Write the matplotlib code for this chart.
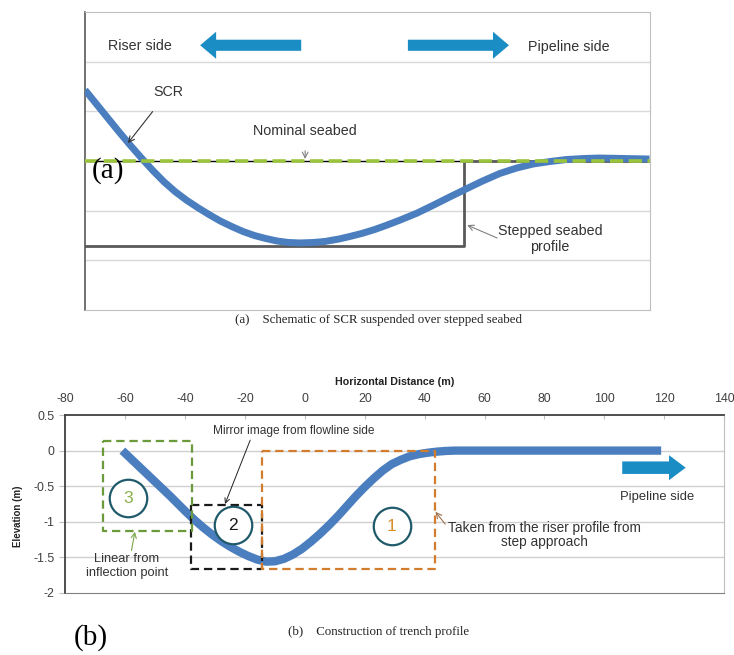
import matplotlib
matplotlib.use('Agg')
import matplotlib.pyplot as plt
from matplotlib.patches import FancyArrowPatch, ArrowStyle

plt.rcParams['font.family'] = ['Liberation Sans', 'DejaVu Sans']
plt.rcParams['lines.scale_dashes'] = False

# ---- panel (a): schematic, x in 0-100 units, y in grid units (nominal seabed = 0)
scr_x = [0, 2, 4, 6, 8, 10, 12, 14, 16, 18, 20, 22, 24, 26, 28, 30, 32, 34, 36, 38.1, 40.5,
         42.5, 45, 46.9, 49, 51.3, 53.5, 55.8, 58.8, 61.7, 64.5, 67.2, 70.3, 73.5, 76.5,
         79.4, 82.4, 85.3, 88.3, 91.2, 95.5, 100]
scr_y = [1.43, 1.15, 0.87, 0.59, 0.32, 0.06, -0.19, -0.42, -0.62, -0.79, -0.94, -1.08, -1.21,
         -1.32, -1.42, -1.50, -1.56, -1.61, -1.64, -1.65, -1.64, -1.62, -1.57, -1.52, -1.46,
         -1.38, -1.29, -1.19, -1.05, -0.89, -0.73, -0.58, -0.41, -0.25, -0.14, -0.06, -0.01,
         0.03, 0.05, 0.06, 0.05, 0.04]
step_x = [0, 67.2, 67.2, 100]
step_y = [-1.71, -1.71, 0, 0]
grid_a = [-2, -1, 1, 2]

# ---- panel (b): trench profile
trench_x = [-61, -55, -50, -45, -40, -37, -34, -31, -28, -25, -22, -19, -16, -13, -10, -7,
            -4, -1, 2, 5, 8, 11, 14, 17, 20, 23, 26, 29, 32, 35, 38, 41, 44, 47, 50, 119]
trench_y = [0, -0.24, -0.44, -0.64, -0.85, -0.97, -1.08, -1.18, -1.27, -1.35, -1.42, -1.48,
            -1.53, -1.56, -1.555, -1.52, -1.46, -1.38, -1.28, -1.17, -1.05, -0.92, -0.78,
            -0.64, -0.51, -0.39, -0.28, -0.19, -0.13, -0.08, -0.05, -0.03, -0.015, -0.005,
            0, 0]
# boxes: (x0, x1, y0, y1)
box3 = (-67.5, -37.7, -1.13, 0.13)
box2 = (-38, -14.3, -1.67, -0.76)
box1 = (-14.3, 43.6, -1.67, -0.01)
circle_labels = ['3', '2', '1']
circle_x = [-59.1, -24.0, 29.0]
circle_y = [-0.67, -1.05, -1.06]
xticks_b = [-80, -60, -40, -20, 0, 20, 40, 60, 80, 100, 120, 140]
yticks_b = [0.5, 0, -0.5, -1, -1.5, -2]
grid_b = [0, -0.5, -1, -1.5]

BLUE = '#4a7ebf'
ARROW_BLUE = '#1a8dc4'
TXT = '#333333'

fig = plt.figure(figsize=(7.34, 6.55), dpi=100)

# ================= panel (a)
ax = fig.add_axes([0.1158, 0.5267, 0.7691, 0.455])
ax.set_xlim(0, 100)
ax.set_ylim(-3, 3)
for g in grid_a:
    ax.axhline(g, color='#d9d9d9', lw=1, zorder=0)
ax.set_xticks([])
ax.set_yticks([])
for s in ['top', 'right', 'bottom']:
    ax.spines[s].set_color('#bfbfbf')
ax.spines['left'].set_color('#595959')
ax.spines['left'].set_linewidth(1.2)

ax.plot([0, 67.2], [0, 0], color='black', lw=1, zorder=2)
ax.plot(step_x, step_y, color='#595959', lw=2, zorder=2)
ax.plot(scr_x, scr_y, color=BLUE, lw=5, solid_capstyle='butt', solid_joinstyle='round',
        zorder=3)
ax.plot([0, 100], [0, 0], color='#9ac43c', lw=2.6, linestyle=(0, (9.5, 4)), zorder=4)

ax.text(9.7, 2.31, 'Riser side', ha='center', va='center', fontsize=10.3, color=TXT)
ax.text(85.7, 2.29, 'Pipeline side', ha='center', va='center', fontsize=10.3, color=TXT)
big = ArrowStyle('simple', head_length=11.5, head_width=19.5, tail_width=8)
ax.add_patch(FancyArrowPatch((38.3, 2.33), (20.4, 2.33), arrowstyle=big, mutation_scale=1,
                             shrinkA=0, shrinkB=0, color=ARROW_BLUE, lw=0))
ax.add_patch(FancyArrowPatch((57.2, 2.33), (75.1, 2.33), arrowstyle=big, mutation_scale=1,
                             shrinkA=0, shrinkB=0, color=ARROW_BLUE, lw=0))

ax.annotate('SCR', xy=(7.6, 0.36), xytext=(14.7, 1.39), ha='center', va='center',
            fontsize=10.3, color=TXT,
            arrowprops=dict(arrowstyle='->', color='#333333', lw=0.8, shrinkA=9, shrinkB=0))
ax.annotate('Nominal seabed', xy=(39.0, 0.04), xytext=(39.0, 0.60), ha='center', va='center',
            fontsize=10.3, color=TXT,
            arrowprops=dict(arrowstyle='->', color='#808080', lw=0.8, shrinkA=7, shrinkB=0))
ax.text(82.4, -1.57, 'Stepped seabed\nprofile', ha='center', va='center', fontsize=10.3,
        color=TXT, linespacing=1.25)
ax.annotate('', xy=(67.7, -1.29), xytext=(73.0, -1.55),
            arrowprops=dict(arrowstyle='->', color='#808080', lw=0.8, shrinkA=0, shrinkB=0))

fig.text(108 / 734, 1 - 171 / 655, '(a)', ha='center', va='center', fontsize=21,
         family='Liberation Serif')
fig.text(378.6 / 734, 1 - 320.5 / 655, '(a)    Schematic of SCR suspended over stepped seabed',
         ha='center', va='center', fontsize=9.3, family='Liberation Serif', color='#222222')

# ================= panel (b)
bx = fig.add_axes([0.0892, 0.0947, 0.8972, 0.2717])
bx.set_xlim(-80, 140)
bx.set_ylim(-2, 0.5)
for g in grid_b:
    bx.axhline(g, color='#d0d0d0', lw=1, zorder=0)
bx.xaxis.tick_top()
bx.xaxis.set_label_position('top')
bx.set_xticks(xticks_b)
bx.set_xticklabels([str(t) for t in xticks_b])
bx.set_yticks(yticks_b)
bx.set_yticklabels(['0.5', '0', '-0.5', '-1', '-1.5', '-2'])
bx.tick_params(axis='x', direction='in', length=3, pad=7, labelsize=8.9, colors='#404040',
               color='#bfbfbf')
bx.tick_params(axis='y', direction='out', length=4, pad=4, labelsize=8.9, colors='#404040',
               color='#bfbfbf')
bx.spines['top'].set_color('#404040')
bx.spines['top'].set_linewidth(1.3)
bx.spines['left'].set_color('#404040')
bx.spines['left'].set_linewidth(1.3)
bx.spines['bottom'].set_color('#808080')
bx.spines['right'].set_color('#bfbfbf')
bx.set_xlabel('Horizontal Distance (m)', fontsize=7.7, fontweight='bold', labelpad=6,
              color='#222222')
fig.text(18 / 734, 1 - 516 / 655, 'Elevation (m)', rotation=90, ha='center', va='center',
         fontsize=7, fontweight='bold', color='#222222')

bx.plot(trench_x, trench_y, color=BLUE, lw=6, solid_capstyle='butt', solid_joinstyle='round',
        zorder=3)


def draw_box(b, color):
    x0, x1, y0, y1 = b
    bx.plot([x0, x1, x1, x0, x0], [y1, y1, y0, y0, y1], color=color, lw=1.6,
            linestyle=(0, (6, 3.5)), zorder=4)


draw_box(box2, '#1a1a1a')
draw_box(box1, '#d27d2d')
draw_box(box3, '#6b9a3a')

num_colors = ['#8ab04a', '#1a1a1a', '#d9902c']
for lab, cx, cy, c in zip(circle_labels, circle_x, circle_y, num_colors):
    bx.plot(cx, cy, 'o', ms=27, mfc='white', mec='#1f5a6b', mew=1.6, zorder=5)
    bx.text(cx, cy, lab, ha='center', va='center', fontsize=12.5, color=c, zorder=6)

bx.annotate('Mirror image from flowline side', xy=(-26.7, -0.75), xytext=(-3.9, 0.27),
            ha='center', va='center', fontsize=8.6, color=TXT,
            arrowprops=dict(arrowstyle='->', color='#222222', lw=0.7, shrinkA=0, shrinkB=0,
                            relpos=(0.24, 0)))
bx.annotate('Linear from\ninflection point', xy=(-56.8, -1.14), xytext=(-59.5, -1.62),
            ha='center', va='center', fontsize=9.3, color=TXT, linespacing=1.15,
            arrowprops=dict(arrowstyle='->', color='#7aa64a', lw=0.8, shrinkA=0, shrinkB=0,
                            relpos=(0.55, 1)))
bx.annotate('Taken from the riser profile from\nstep approach', xy=(43.6, -0.86),
            xytext=(80.0, -1.18), ha='center', va='center', fontsize=9.8, color=TXT,
            linespacing=1.0,
            arrowprops=dict(arrowstyle='->', color='#a0704a', lw=0.8, shrinkA=0, shrinkB=0,
                            relpos=(0, 0.75)))

small = ArrowStyle('simple', head_length=12, head_width=18, tail_width=9)
bx.add_patch(FancyArrowPatch((106.0, -0.24), (127.2, -0.24), arrowstyle=small,
                             mutation_scale=1, shrinkA=0, shrinkB=0, color=ARROW_BLUE, lw=0,
                             zorder=5))
bx.text(117.5, -0.645, 'Pipeline side', ha='center', va='center', fontsize=9.4, color=TXT)

fig.text(91 / 734, 1 - 638 / 655, '(b)', ha='center', va='center', fontsize=21,
         family='Liberation Serif')
fig.text(378.6 / 734, 1 - 631.6 / 655, '(b)    Construction of trench profile',
         ha='center', va='center', fontsize=9.3, family='Liberation Serif', color='#222222')

fig.savefig('out.png', dpi=100)
